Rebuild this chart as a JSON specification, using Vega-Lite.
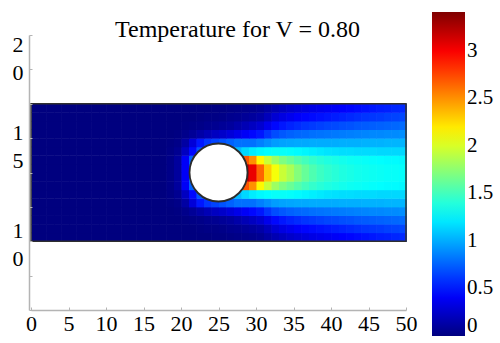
{
"$schema": "https://vega.github.io/schema/vega-lite/v6.json",
"width": 375, "height": 275,
"autosize": "none",
"padding": {"left": 31, "top": 35, "right": 94, "bottom": 33},
"config": {"view": {"stroke": null}, "font": "Times New Roman, Liberation Serif, serif"},
"title": {"text": "Temperature for V = 0.80", "font": "Times New Roman, Liberation Serif, serif", "fontSize": 24, "fontWeight": "normal", "color": "#000000", "anchor": "middle", "frame": "group", "dx": 19, "dy": 49, "offset": 0, "baseline": "alphabetic"},
"datasets": {
"obstacle": [{"cx": 25, "cy": 15}],
"channel": [{"x0": 0, "x1": 50, "y0": 10, "y1": 20}],
"cells": [
{"x":0,"y":10,"t":0},{"x":1,"y":10,"t":0},{"x":2,"y":10,"t":0},{"x":3,"y":10,"t":0},{"x":4,"y":10,"t":0},{"x":5,"y":10,"t":0},{"x":6,"y":10,"t":0},{"x":7,"y":10,"t":0},{"x":8,"y":10,"t":0},{"x":9,"y":10,"t":0},{"x":10,"y":10,"t":0},{"x":11,"y":10,"t":0},{"x":12,"y":10,"t":0},{"x":13,"y":10,"t":0},{"x":14,"y":10,"t":0},{"x":15,"y":10,"t":0},{"x":16,"y":10,"t":0},{"x":17,"y":10,"t":0},{"x":18,"y":10,"t":0},{"x":19,"y":10,"t":0},{"x":20,"y":10,"t":0},{"x":21,"y":10,"t":0},{"x":22,"y":10,"t":0},{"x":23,"y":10,"t":0},{"x":24,"y":10,"t":0.01},{"x":25,"y":10,"t":0.01},{"x":26,"y":10,"t":0.02},{"x":27,"y":10,"t":0.03},{"x":28,"y":10,"t":0.04},{"x":29,"y":10,"t":0.05},{"x":30,"y":10,"t":0.07},{"x":31,"y":10,"t":0.12},{"x":32,"y":10,"t":0.17},{"x":33,"y":10,"t":0.21},{"x":34,"y":10,"t":0.25},{"x":35,"y":10,"t":0.28},{"x":36,"y":10,"t":0.31},{"x":37,"y":10,"t":0.34},{"x":38,"y":10,"t":0.36},{"x":39,"y":10,"t":0.38},{"x":40,"y":10,"t":0.4},{"x":41,"y":10,"t":0.42},{"x":42,"y":10,"t":0.44},{"x":43,"y":10,"t":0.46},{"x":44,"y":10,"t":0.48},{"x":45,"y":10,"t":0.5},{"x":46,"y":10,"t":0.52},{"x":47,"y":10,"t":0.53},{"x":48,"y":10,"t":0.55},{"x":49,"y":10,"t":0.56},
{"x":0,"y":10.625,"t":0},{"x":1,"y":10.625,"t":0},{"x":2,"y":10.625,"t":0},{"x":3,"y":10.625,"t":0},{"x":4,"y":10.625,"t":0},{"x":5,"y":10.625,"t":0},{"x":6,"y":10.625,"t":0},{"x":7,"y":10.625,"t":0},{"x":8,"y":10.625,"t":0},{"x":9,"y":10.625,"t":0},{"x":10,"y":10.625,"t":0},{"x":11,"y":10.625,"t":0},{"x":12,"y":10.625,"t":0},{"x":13,"y":10.625,"t":0},{"x":14,"y":10.625,"t":0},{"x":15,"y":10.625,"t":0},{"x":16,"y":10.625,"t":0},{"x":17,"y":10.625,"t":0},{"x":18,"y":10.625,"t":0},{"x":19,"y":10.625,"t":0},{"x":20,"y":10.625,"t":0},{"x":21,"y":10.625,"t":0},{"x":22,"y":10.625,"t":0.01},{"x":23,"y":10.625,"t":0.02},{"x":24,"y":10.625,"t":0.02},{"x":25,"y":10.625,"t":0.03},{"x":26,"y":10.625,"t":0.05},{"x":27,"y":10.625,"t":0.06},{"x":28,"y":10.625,"t":0.08},{"x":29,"y":10.625,"t":0.1},{"x":30,"y":10.625,"t":0.13},{"x":31,"y":10.625,"t":0.2},{"x":32,"y":10.625,"t":0.28},{"x":33,"y":10.625,"t":0.33},{"x":34,"y":10.625,"t":0.37},{"x":35,"y":10.625,"t":0.41},{"x":36,"y":10.625,"t":0.44},{"x":37,"y":10.625,"t":0.46},{"x":38,"y":10.625,"t":0.48},{"x":39,"y":10.625,"t":0.5},{"x":40,"y":10.625,"t":0.52},{"x":41,"y":10.625,"t":0.54},{"x":42,"y":10.625,"t":0.56},{"x":43,"y":10.625,"t":0.58},{"x":44,"y":10.625,"t":0.6},{"x":45,"y":10.625,"t":0.61},{"x":46,"y":10.625,"t":0.62},{"x":47,"y":10.625,"t":0.64},{"x":48,"y":10.625,"t":0.65},{"x":49,"y":10.625,"t":0.66},
{"x":0,"y":11.25,"t":0},{"x":1,"y":11.25,"t":0},{"x":2,"y":11.25,"t":0},{"x":3,"y":11.25,"t":0},{"x":4,"y":11.25,"t":0},{"x":5,"y":11.25,"t":0},{"x":6,"y":11.25,"t":0},{"x":7,"y":11.25,"t":0},{"x":8,"y":11.25,"t":0},{"x":9,"y":11.25,"t":0},{"x":10,"y":11.25,"t":0},{"x":11,"y":11.25,"t":0},{"x":12,"y":11.25,"t":0},{"x":13,"y":11.25,"t":0},{"x":14,"y":11.25,"t":0},{"x":15,"y":11.25,"t":0},{"x":16,"y":11.25,"t":0},{"x":17,"y":11.25,"t":0},{"x":18,"y":11.25,"t":0},{"x":19,"y":11.25,"t":0},{"x":20,"y":11.25,"t":0.01},{"x":21,"y":11.25,"t":0.02},{"x":22,"y":11.25,"t":0.03},{"x":23,"y":11.25,"t":0.05},{"x":24,"y":11.25,"t":0.06},{"x":25,"y":11.25,"t":0.08},{"x":26,"y":11.25,"t":0.1},{"x":27,"y":11.25,"t":0.14},{"x":28,"y":11.25,"t":0.18},{"x":29,"y":11.25,"t":0.22},{"x":30,"y":11.25,"t":0.27},{"x":31,"y":11.25,"t":0.36},{"x":32,"y":11.25,"t":0.45},{"x":33,"y":11.25,"t":0.5},{"x":34,"y":11.25,"t":0.54},{"x":35,"y":11.25,"t":0.57},{"x":36,"y":11.25,"t":0.6},{"x":37,"y":11.25,"t":0.62},{"x":38,"y":11.25,"t":0.64},{"x":39,"y":11.25,"t":0.66},{"x":40,"y":11.25,"t":0.67},{"x":41,"y":11.25,"t":0.69},{"x":42,"y":11.25,"t":0.7},{"x":43,"y":11.25,"t":0.72},{"x":44,"y":11.25,"t":0.73},{"x":45,"y":11.25,"t":0.74},{"x":46,"y":11.25,"t":0.75},{"x":47,"y":11.25,"t":0.76},{"x":48,"y":11.25,"t":0.77},{"x":49,"y":11.25,"t":0.78},
{"x":0,"y":11.875,"t":0},{"x":1,"y":11.875,"t":0},{"x":2,"y":11.875,"t":0},{"x":3,"y":11.875,"t":0},{"x":4,"y":11.875,"t":0},{"x":5,"y":11.875,"t":0},{"x":6,"y":11.875,"t":0},{"x":7,"y":11.875,"t":0},{"x":8,"y":11.875,"t":0},{"x":9,"y":11.875,"t":0},{"x":10,"y":11.875,"t":0},{"x":11,"y":11.875,"t":0},{"x":12,"y":11.875,"t":0},{"x":13,"y":11.875,"t":0},{"x":14,"y":11.875,"t":0},{"x":15,"y":11.875,"t":0},{"x":16,"y":11.875,"t":0},{"x":17,"y":11.875,"t":0},{"x":18,"y":11.875,"t":0},{"x":19,"y":11.875,"t":0.01},{"x":20,"y":11.875,"t":0.04},{"x":21,"y":11.875,"t":0.08},{"x":22,"y":11.875,"t":0.13},{"x":23,"y":11.875,"t":0.18},{"x":24,"y":11.875,"t":0.22},{"x":25,"y":11.875,"t":0.25},{"x":26,"y":11.875,"t":0.3},{"x":27,"y":11.875,"t":0.35},{"x":28,"y":11.875,"t":0.4},{"x":29,"y":11.875,"t":0.45},{"x":30,"y":11.875,"t":0.5},{"x":31,"y":11.875,"t":0.6},{"x":32,"y":11.875,"t":0.68},{"x":33,"y":11.875,"t":0.72},{"x":34,"y":11.875,"t":0.75},{"x":35,"y":11.875,"t":0.77},{"x":36,"y":11.875,"t":0.78},{"x":37,"y":11.875,"t":0.8},{"x":38,"y":11.875,"t":0.81},{"x":39,"y":11.875,"t":0.82},{"x":40,"y":11.875,"t":0.83},{"x":41,"y":11.875,"t":0.84},{"x":42,"y":11.875,"t":0.85},{"x":43,"y":11.875,"t":0.86},{"x":44,"y":11.875,"t":0.87},{"x":45,"y":11.875,"t":0.88},{"x":46,"y":11.875,"t":0.88},{"x":47,"y":11.875,"t":0.89},{"x":48,"y":11.875,"t":0.89},{"x":49,"y":11.875,"t":0.9},
{"x":0,"y":12.5,"t":0},{"x":1,"y":12.5,"t":0},{"x":2,"y":12.5,"t":0},{"x":3,"y":12.5,"t":0},{"x":4,"y":12.5,"t":0},{"x":5,"y":12.5,"t":0},{"x":6,"y":12.5,"t":0},{"x":7,"y":12.5,"t":0},{"x":8,"y":12.5,"t":0},{"x":9,"y":12.5,"t":0},{"x":10,"y":12.5,"t":0},{"x":11,"y":12.5,"t":0},{"x":12,"y":12.5,"t":0},{"x":13,"y":12.5,"t":0},{"x":14,"y":12.5,"t":0},{"x":15,"y":12.5,"t":0},{"x":16,"y":12.5,"t":0},{"x":17,"y":12.5,"t":0},{"x":18,"y":12.5,"t":0.01},{"x":19,"y":12.5,"t":0.03},{"x":20,"y":12.5,"t":0.12},{"x":21,"y":12.5,"t":0.3},{"x":22,"y":12.5,"t":0.5},{"x":23,"y":12.5,"t":0.6},{"x":24,"y":12.5,"t":0.65},{"x":25,"y":12.5,"t":0.7},{"x":26,"y":12.5,"t":0.75},{"x":27,"y":12.5,"t":0.8},{"x":28,"y":12.5,"t":0.8},{"x":29,"y":12.5,"t":0.8},{"x":30,"y":12.5,"t":0.85},{"x":31,"y":12.5,"t":0.9},{"x":32,"y":12.5,"t":0.95},{"x":33,"y":12.5,"t":0.97},{"x":34,"y":12.5,"t":0.98},{"x":35,"y":12.5,"t":0.99},{"x":36,"y":12.5,"t":0.99},{"x":37,"y":12.5,"t":1.0},{"x":38,"y":12.5,"t":1.0},{"x":39,"y":12.5,"t":1.0},{"x":40,"y":12.5,"t":1.0},{"x":41,"y":12.5,"t":1.01},{"x":42,"y":12.5,"t":1.01},{"x":43,"y":12.5,"t":1.01},{"x":44,"y":12.5,"t":1.02},{"x":45,"y":12.5,"t":1.02},{"x":46,"y":12.5,"t":1.02},{"x":47,"y":12.5,"t":1.03},{"x":48,"y":12.5,"t":1.03},{"x":49,"y":12.5,"t":1.03},
{"x":0,"y":13.125,"t":0},{"x":1,"y":13.125,"t":0},{"x":2,"y":13.125,"t":0},{"x":3,"y":13.125,"t":0},{"x":4,"y":13.125,"t":0},{"x":5,"y":13.125,"t":0},{"x":6,"y":13.125,"t":0},{"x":7,"y":13.125,"t":0},{"x":8,"y":13.125,"t":0},{"x":9,"y":13.125,"t":0},{"x":10,"y":13.125,"t":0},{"x":11,"y":13.125,"t":0},{"x":12,"y":13.125,"t":0},{"x":13,"y":13.125,"t":0},{"x":14,"y":13.125,"t":0},{"x":15,"y":13.125,"t":0},{"x":16,"y":13.125,"t":0},{"x":17,"y":13.125,"t":0},{"x":18,"y":13.125,"t":0.02},{"x":19,"y":13.125,"t":0.06},{"x":20,"y":13.125,"t":0.22},{"x":21,"y":13.125,"t":0.45},{"x":22,"y":13.125,"t":0.7},{"x":23,"y":13.125,"t":0.8},{"x":24,"y":13.125,"t":0.9},{"x":25,"y":13.125,"t":0.9},{"x":26,"y":13.125,"t":0.95},{"x":27,"y":13.125,"t":1.05},{"x":28,"y":13.125,"t":1.15},{"x":29,"y":13.125,"t":1.22},{"x":30,"y":13.125,"t":1.26},{"x":31,"y":13.125,"t":1.28},{"x":32,"y":13.125,"t":1.3},{"x":33,"y":13.125,"t":1.3},{"x":34,"y":13.125,"t":1.29},{"x":35,"y":13.125,"t":1.27},{"x":36,"y":13.125,"t":1.25},{"x":37,"y":13.125,"t":1.23},{"x":38,"y":13.125,"t":1.21},{"x":39,"y":13.125,"t":1.19},{"x":40,"y":13.125,"t":1.18},{"x":41,"y":13.125,"t":1.17},{"x":42,"y":13.125,"t":1.17},{"x":43,"y":13.125,"t":1.16},{"x":44,"y":13.125,"t":1.16},{"x":45,"y":13.125,"t":1.16},{"x":46,"y":13.125,"t":1.15},{"x":47,"y":13.125,"t":1.15},{"x":48,"y":13.125,"t":1.15},{"x":49,"y":13.125,"t":1.15},
{"x":0,"y":13.75,"t":0},{"x":1,"y":13.75,"t":0},{"x":2,"y":13.75,"t":0},{"x":3,"y":13.75,"t":0},{"x":4,"y":13.75,"t":0},{"x":5,"y":13.75,"t":0},{"x":6,"y":13.75,"t":0},{"x":7,"y":13.75,"t":0},{"x":8,"y":13.75,"t":0},{"x":9,"y":13.75,"t":0},{"x":10,"y":13.75,"t":0},{"x":11,"y":13.75,"t":0},{"x":12,"y":13.75,"t":0},{"x":13,"y":13.75,"t":0},{"x":14,"y":13.75,"t":0},{"x":15,"y":13.75,"t":0},{"x":16,"y":13.75,"t":0},{"x":17,"y":13.75,"t":0},{"x":18,"y":13.75,"t":0.03},{"x":19,"y":13.75,"t":0.1},{"x":20,"y":13.75,"t":0.4},{"x":21,"y":13.75,"t":0.75},{"x":22,"y":13.75,"t":0.8},{"x":23,"y":13.75,"t":1.0},{"x":24,"y":13.75,"t":1.0},{"x":25,"y":13.75,"t":1.0},{"x":26,"y":13.75,"t":1.0},{"x":27,"y":13.75,"t":1.8},{"x":28,"y":13.75,"t":2.7},{"x":29,"y":13.75,"t":2.5},{"x":30,"y":13.75,"t":2.15},{"x":31,"y":13.75,"t":1.95},{"x":32,"y":13.75,"t":1.8},{"x":33,"y":13.75,"t":1.7},{"x":34,"y":13.75,"t":1.63},{"x":35,"y":13.75,"t":1.56},{"x":36,"y":13.75,"t":1.5},{"x":37,"y":13.75,"t":1.45},{"x":38,"y":13.75,"t":1.41},{"x":39,"y":13.75,"t":1.38},{"x":40,"y":13.75,"t":1.36},{"x":41,"y":13.75,"t":1.34},{"x":42,"y":13.75,"t":1.32},{"x":43,"y":13.75,"t":1.31},{"x":44,"y":13.75,"t":1.3},{"x":45,"y":13.75,"t":1.29},{"x":46,"y":13.75,"t":1.28},{"x":47,"y":13.75,"t":1.27},{"x":48,"y":13.75,"t":1.27},{"x":49,"y":13.75,"t":1.26},
{"x":0,"y":14.375,"t":0},{"x":1,"y":14.375,"t":0},{"x":2,"y":14.375,"t":0},{"x":3,"y":14.375,"t":0},{"x":4,"y":14.375,"t":0},{"x":5,"y":14.375,"t":0},{"x":6,"y":14.375,"t":0},{"x":7,"y":14.375,"t":0},{"x":8,"y":14.375,"t":0},{"x":9,"y":14.375,"t":0},{"x":10,"y":14.375,"t":0},{"x":11,"y":14.375,"t":0},{"x":12,"y":14.375,"t":0},{"x":13,"y":14.375,"t":0},{"x":14,"y":14.375,"t":0},{"x":15,"y":14.375,"t":0},{"x":16,"y":14.375,"t":0},{"x":17,"y":14.375,"t":0},{"x":18,"y":14.375,"t":0.03},{"x":19,"y":14.375,"t":0.1},{"x":20,"y":14.375,"t":0.4},{"x":21,"y":14.375,"t":0.8},{"x":22,"y":14.375,"t":1.0},{"x":23,"y":14.375,"t":1.0},{"x":24,"y":14.375,"t":1.0},{"x":25,"y":14.375,"t":1.0},{"x":26,"y":14.375,"t":1.0},{"x":27,"y":14.375,"t":1.0},{"x":28,"y":14.375,"t":3.2},{"x":29,"y":14.375,"t":3.05},{"x":30,"y":14.375,"t":2.65},{"x":31,"y":14.375,"t":2.3},{"x":32,"y":14.375,"t":2.1},{"x":33,"y":14.375,"t":1.95},{"x":34,"y":14.375,"t":1.85},{"x":35,"y":14.375,"t":1.72},{"x":36,"y":14.375,"t":1.62},{"x":37,"y":14.375,"t":1.54},{"x":38,"y":14.375,"t":1.48},{"x":39,"y":14.375,"t":1.44},{"x":40,"y":14.375,"t":1.41},{"x":41,"y":14.375,"t":1.38},{"x":42,"y":14.375,"t":1.36},{"x":43,"y":14.375,"t":1.34},{"x":44,"y":14.375,"t":1.33},{"x":45,"y":14.375,"t":1.32},{"x":46,"y":14.375,"t":1.31},{"x":47,"y":14.375,"t":1.3},{"x":48,"y":14.375,"t":1.3},{"x":49,"y":14.375,"t":1.29},
{"x":0,"y":15,"t":0},{"x":1,"y":15,"t":0},{"x":2,"y":15,"t":0},{"x":3,"y":15,"t":0},{"x":4,"y":15,"t":0},{"x":5,"y":15,"t":0},{"x":6,"y":15,"t":0},{"x":7,"y":15,"t":0},{"x":8,"y":15,"t":0},{"x":9,"y":15,"t":0},{"x":10,"y":15,"t":0},{"x":11,"y":15,"t":0},{"x":12,"y":15,"t":0},{"x":13,"y":15,"t":0},{"x":14,"y":15,"t":0},{"x":15,"y":15,"t":0},{"x":16,"y":15,"t":0},{"x":17,"y":15,"t":0},{"x":18,"y":15,"t":0.03},{"x":19,"y":15,"t":0.1},{"x":20,"y":15,"t":0.4},{"x":21,"y":15,"t":0.8},{"x":22,"y":15,"t":1.0},{"x":23,"y":15,"t":1.0},{"x":24,"y":15,"t":1.0},{"x":25,"y":15,"t":1.0},{"x":26,"y":15,"t":1.0},{"x":27,"y":15,"t":1.0},{"x":28,"y":15,"t":3.2},{"x":29,"y":15,"t":3.05},{"x":30,"y":15,"t":2.65},{"x":31,"y":15,"t":2.3},{"x":32,"y":15,"t":2.1},{"x":33,"y":15,"t":1.95},{"x":34,"y":15,"t":1.85},{"x":35,"y":15,"t":1.72},{"x":36,"y":15,"t":1.62},{"x":37,"y":15,"t":1.54},{"x":38,"y":15,"t":1.48},{"x":39,"y":15,"t":1.44},{"x":40,"y":15,"t":1.41},{"x":41,"y":15,"t":1.38},{"x":42,"y":15,"t":1.36},{"x":43,"y":15,"t":1.34},{"x":44,"y":15,"t":1.33},{"x":45,"y":15,"t":1.32},{"x":46,"y":15,"t":1.31},{"x":47,"y":15,"t":1.3},{"x":48,"y":15,"t":1.3},{"x":49,"y":15,"t":1.29},
{"x":0,"y":15.625,"t":0},{"x":1,"y":15.625,"t":0},{"x":2,"y":15.625,"t":0},{"x":3,"y":15.625,"t":0},{"x":4,"y":15.625,"t":0},{"x":5,"y":15.625,"t":0},{"x":6,"y":15.625,"t":0},{"x":7,"y":15.625,"t":0},{"x":8,"y":15.625,"t":0},{"x":9,"y":15.625,"t":0},{"x":10,"y":15.625,"t":0},{"x":11,"y":15.625,"t":0},{"x":12,"y":15.625,"t":0},{"x":13,"y":15.625,"t":0},{"x":14,"y":15.625,"t":0},{"x":15,"y":15.625,"t":0},{"x":16,"y":15.625,"t":0},{"x":17,"y":15.625,"t":0},{"x":18,"y":15.625,"t":0.03},{"x":19,"y":15.625,"t":0.1},{"x":20,"y":15.625,"t":0.4},{"x":21,"y":15.625,"t":0.75},{"x":22,"y":15.625,"t":0.8},{"x":23,"y":15.625,"t":1.0},{"x":24,"y":15.625,"t":1.0},{"x":25,"y":15.625,"t":1.0},{"x":26,"y":15.625,"t":1.0},{"x":27,"y":15.625,"t":1.8},{"x":28,"y":15.625,"t":2.7},{"x":29,"y":15.625,"t":2.5},{"x":30,"y":15.625,"t":2.15},{"x":31,"y":15.625,"t":1.95},{"x":32,"y":15.625,"t":1.8},{"x":33,"y":15.625,"t":1.7},{"x":34,"y":15.625,"t":1.63},{"x":35,"y":15.625,"t":1.56},{"x":36,"y":15.625,"t":1.5},{"x":37,"y":15.625,"t":1.45},{"x":38,"y":15.625,"t":1.41},{"x":39,"y":15.625,"t":1.38},{"x":40,"y":15.625,"t":1.36},{"x":41,"y":15.625,"t":1.34},{"x":42,"y":15.625,"t":1.32},{"x":43,"y":15.625,"t":1.31},{"x":44,"y":15.625,"t":1.3},{"x":45,"y":15.625,"t":1.29},{"x":46,"y":15.625,"t":1.28},{"x":47,"y":15.625,"t":1.27},{"x":48,"y":15.625,"t":1.27},{"x":49,"y":15.625,"t":1.26},
{"x":0,"y":16.25,"t":0},{"x":1,"y":16.25,"t":0},{"x":2,"y":16.25,"t":0},{"x":3,"y":16.25,"t":0},{"x":4,"y":16.25,"t":0},{"x":5,"y":16.25,"t":0},{"x":6,"y":16.25,"t":0},{"x":7,"y":16.25,"t":0},{"x":8,"y":16.25,"t":0},{"x":9,"y":16.25,"t":0},{"x":10,"y":16.25,"t":0},{"x":11,"y":16.25,"t":0},{"x":12,"y":16.25,"t":0},{"x":13,"y":16.25,"t":0},{"x":14,"y":16.25,"t":0},{"x":15,"y":16.25,"t":0},{"x":16,"y":16.25,"t":0},{"x":17,"y":16.25,"t":0},{"x":18,"y":16.25,"t":0.02},{"x":19,"y":16.25,"t":0.06},{"x":20,"y":16.25,"t":0.22},{"x":21,"y":16.25,"t":0.45},{"x":22,"y":16.25,"t":0.7},{"x":23,"y":16.25,"t":0.8},{"x":24,"y":16.25,"t":0.9},{"x":25,"y":16.25,"t":0.9},{"x":26,"y":16.25,"t":0.95},{"x":27,"y":16.25,"t":1.05},{"x":28,"y":16.25,"t":1.15},{"x":29,"y":16.25,"t":1.22},{"x":30,"y":16.25,"t":1.26},{"x":31,"y":16.25,"t":1.28},{"x":32,"y":16.25,"t":1.3},{"x":33,"y":16.25,"t":1.3},{"x":34,"y":16.25,"t":1.29},{"x":35,"y":16.25,"t":1.27},{"x":36,"y":16.25,"t":1.25},{"x":37,"y":16.25,"t":1.23},{"x":38,"y":16.25,"t":1.21},{"x":39,"y":16.25,"t":1.19},{"x":40,"y":16.25,"t":1.18},{"x":41,"y":16.25,"t":1.17},{"x":42,"y":16.25,"t":1.17},{"x":43,"y":16.25,"t":1.16},{"x":44,"y":16.25,"t":1.16},{"x":45,"y":16.25,"t":1.16},{"x":46,"y":16.25,"t":1.15},{"x":47,"y":16.25,"t":1.15},{"x":48,"y":16.25,"t":1.15},{"x":49,"y":16.25,"t":1.15},
{"x":0,"y":16.875,"t":0},{"x":1,"y":16.875,"t":0},{"x":2,"y":16.875,"t":0},{"x":3,"y":16.875,"t":0},{"x":4,"y":16.875,"t":0},{"x":5,"y":16.875,"t":0},{"x":6,"y":16.875,"t":0},{"x":7,"y":16.875,"t":0},{"x":8,"y":16.875,"t":0},{"x":9,"y":16.875,"t":0},{"x":10,"y":16.875,"t":0},{"x":11,"y":16.875,"t":0},{"x":12,"y":16.875,"t":0},{"x":13,"y":16.875,"t":0},{"x":14,"y":16.875,"t":0},{"x":15,"y":16.875,"t":0},{"x":16,"y":16.875,"t":0},{"x":17,"y":16.875,"t":0},{"x":18,"y":16.875,"t":0.01},{"x":19,"y":16.875,"t":0.03},{"x":20,"y":16.875,"t":0.12},{"x":21,"y":16.875,"t":0.3},{"x":22,"y":16.875,"t":0.5},{"x":23,"y":16.875,"t":0.6},{"x":24,"y":16.875,"t":0.65},{"x":25,"y":16.875,"t":0.7},{"x":26,"y":16.875,"t":0.75},{"x":27,"y":16.875,"t":0.8},{"x":28,"y":16.875,"t":0.8},{"x":29,"y":16.875,"t":0.8},{"x":30,"y":16.875,"t":0.85},{"x":31,"y":16.875,"t":0.9},{"x":32,"y":16.875,"t":0.95},{"x":33,"y":16.875,"t":0.97},{"x":34,"y":16.875,"t":0.98},{"x":35,"y":16.875,"t":0.99},{"x":36,"y":16.875,"t":0.99},{"x":37,"y":16.875,"t":1.0},{"x":38,"y":16.875,"t":1.0},{"x":39,"y":16.875,"t":1.0},{"x":40,"y":16.875,"t":1.0},{"x":41,"y":16.875,"t":1.01},{"x":42,"y":16.875,"t":1.01},{"x":43,"y":16.875,"t":1.01},{"x":44,"y":16.875,"t":1.02},{"x":45,"y":16.875,"t":1.02},{"x":46,"y":16.875,"t":1.02},{"x":47,"y":16.875,"t":1.03},{"x":48,"y":16.875,"t":1.03},{"x":49,"y":16.875,"t":1.03},
{"x":0,"y":17.5,"t":0},{"x":1,"y":17.5,"t":0},{"x":2,"y":17.5,"t":0},{"x":3,"y":17.5,"t":0},{"x":4,"y":17.5,"t":0},{"x":5,"y":17.5,"t":0},{"x":6,"y":17.5,"t":0},{"x":7,"y":17.5,"t":0},{"x":8,"y":17.5,"t":0},{"x":9,"y":17.5,"t":0},{"x":10,"y":17.5,"t":0},{"x":11,"y":17.5,"t":0},{"x":12,"y":17.5,"t":0},{"x":13,"y":17.5,"t":0},{"x":14,"y":17.5,"t":0},{"x":15,"y":17.5,"t":0},{"x":16,"y":17.5,"t":0},{"x":17,"y":17.5,"t":0},{"x":18,"y":17.5,"t":0},{"x":19,"y":17.5,"t":0.01},{"x":20,"y":17.5,"t":0.04},{"x":21,"y":17.5,"t":0.08},{"x":22,"y":17.5,"t":0.13},{"x":23,"y":17.5,"t":0.18},{"x":24,"y":17.5,"t":0.22},{"x":25,"y":17.5,"t":0.25},{"x":26,"y":17.5,"t":0.3},{"x":27,"y":17.5,"t":0.35},{"x":28,"y":17.5,"t":0.4},{"x":29,"y":17.5,"t":0.45},{"x":30,"y":17.5,"t":0.5},{"x":31,"y":17.5,"t":0.6},{"x":32,"y":17.5,"t":0.68},{"x":33,"y":17.5,"t":0.72},{"x":34,"y":17.5,"t":0.75},{"x":35,"y":17.5,"t":0.77},{"x":36,"y":17.5,"t":0.78},{"x":37,"y":17.5,"t":0.8},{"x":38,"y":17.5,"t":0.81},{"x":39,"y":17.5,"t":0.82},{"x":40,"y":17.5,"t":0.83},{"x":41,"y":17.5,"t":0.84},{"x":42,"y":17.5,"t":0.85},{"x":43,"y":17.5,"t":0.86},{"x":44,"y":17.5,"t":0.87},{"x":45,"y":17.5,"t":0.88},{"x":46,"y":17.5,"t":0.88},{"x":47,"y":17.5,"t":0.89},{"x":48,"y":17.5,"t":0.89},{"x":49,"y":17.5,"t":0.9},
{"x":0,"y":18.125,"t":0},{"x":1,"y":18.125,"t":0},{"x":2,"y":18.125,"t":0},{"x":3,"y":18.125,"t":0},{"x":4,"y":18.125,"t":0},{"x":5,"y":18.125,"t":0},{"x":6,"y":18.125,"t":0},{"x":7,"y":18.125,"t":0},{"x":8,"y":18.125,"t":0},{"x":9,"y":18.125,"t":0},{"x":10,"y":18.125,"t":0},{"x":11,"y":18.125,"t":0},{"x":12,"y":18.125,"t":0},{"x":13,"y":18.125,"t":0},{"x":14,"y":18.125,"t":0},{"x":15,"y":18.125,"t":0},{"x":16,"y":18.125,"t":0},{"x":17,"y":18.125,"t":0},{"x":18,"y":18.125,"t":0},{"x":19,"y":18.125,"t":0},{"x":20,"y":18.125,"t":0.01},{"x":21,"y":18.125,"t":0.02},{"x":22,"y":18.125,"t":0.03},{"x":23,"y":18.125,"t":0.05},{"x":24,"y":18.125,"t":0.06},{"x":25,"y":18.125,"t":0.08},{"x":26,"y":18.125,"t":0.1},{"x":27,"y":18.125,"t":0.14},{"x":28,"y":18.125,"t":0.18},{"x":29,"y":18.125,"t":0.22},{"x":30,"y":18.125,"t":0.27},{"x":31,"y":18.125,"t":0.36},{"x":32,"y":18.125,"t":0.45},{"x":33,"y":18.125,"t":0.5},{"x":34,"y":18.125,"t":0.54},{"x":35,"y":18.125,"t":0.57},{"x":36,"y":18.125,"t":0.6},{"x":37,"y":18.125,"t":0.62},{"x":38,"y":18.125,"t":0.64},{"x":39,"y":18.125,"t":0.66},{"x":40,"y":18.125,"t":0.67},{"x":41,"y":18.125,"t":0.69},{"x":42,"y":18.125,"t":0.7},{"x":43,"y":18.125,"t":0.72},{"x":44,"y":18.125,"t":0.73},{"x":45,"y":18.125,"t":0.74},{"x":46,"y":18.125,"t":0.75},{"x":47,"y":18.125,"t":0.76},{"x":48,"y":18.125,"t":0.77},{"x":49,"y":18.125,"t":0.78},
{"x":0,"y":18.75,"t":0},{"x":1,"y":18.75,"t":0},{"x":2,"y":18.75,"t":0},{"x":3,"y":18.75,"t":0},{"x":4,"y":18.75,"t":0},{"x":5,"y":18.75,"t":0},{"x":6,"y":18.75,"t":0},{"x":7,"y":18.75,"t":0},{"x":8,"y":18.75,"t":0},{"x":9,"y":18.75,"t":0},{"x":10,"y":18.75,"t":0},{"x":11,"y":18.75,"t":0},{"x":12,"y":18.75,"t":0},{"x":13,"y":18.75,"t":0},{"x":14,"y":18.75,"t":0},{"x":15,"y":18.75,"t":0},{"x":16,"y":18.75,"t":0},{"x":17,"y":18.75,"t":0},{"x":18,"y":18.75,"t":0},{"x":19,"y":18.75,"t":0},{"x":20,"y":18.75,"t":0},{"x":21,"y":18.75,"t":0},{"x":22,"y":18.75,"t":0.01},{"x":23,"y":18.75,"t":0.02},{"x":24,"y":18.75,"t":0.02},{"x":25,"y":18.75,"t":0.03},{"x":26,"y":18.75,"t":0.05},{"x":27,"y":18.75,"t":0.06},{"x":28,"y":18.75,"t":0.08},{"x":29,"y":18.75,"t":0.1},{"x":30,"y":18.75,"t":0.13},{"x":31,"y":18.75,"t":0.2},{"x":32,"y":18.75,"t":0.28},{"x":33,"y":18.75,"t":0.33},{"x":34,"y":18.75,"t":0.37},{"x":35,"y":18.75,"t":0.41},{"x":36,"y":18.75,"t":0.44},{"x":37,"y":18.75,"t":0.46},{"x":38,"y":18.75,"t":0.48},{"x":39,"y":18.75,"t":0.5},{"x":40,"y":18.75,"t":0.52},{"x":41,"y":18.75,"t":0.54},{"x":42,"y":18.75,"t":0.56},{"x":43,"y":18.75,"t":0.58},{"x":44,"y":18.75,"t":0.6},{"x":45,"y":18.75,"t":0.61},{"x":46,"y":18.75,"t":0.62},{"x":47,"y":18.75,"t":0.64},{"x":48,"y":18.75,"t":0.65},{"x":49,"y":18.75,"t":0.66},
{"x":0,"y":19.375,"t":0},{"x":1,"y":19.375,"t":0},{"x":2,"y":19.375,"t":0},{"x":3,"y":19.375,"t":0},{"x":4,"y":19.375,"t":0},{"x":5,"y":19.375,"t":0},{"x":6,"y":19.375,"t":0},{"x":7,"y":19.375,"t":0},{"x":8,"y":19.375,"t":0},{"x":9,"y":19.375,"t":0},{"x":10,"y":19.375,"t":0},{"x":11,"y":19.375,"t":0},{"x":12,"y":19.375,"t":0},{"x":13,"y":19.375,"t":0},{"x":14,"y":19.375,"t":0},{"x":15,"y":19.375,"t":0},{"x":16,"y":19.375,"t":0},{"x":17,"y":19.375,"t":0},{"x":18,"y":19.375,"t":0},{"x":19,"y":19.375,"t":0},{"x":20,"y":19.375,"t":0},{"x":21,"y":19.375,"t":0},{"x":22,"y":19.375,"t":0},{"x":23,"y":19.375,"t":0},{"x":24,"y":19.375,"t":0.01},{"x":25,"y":19.375,"t":0.01},{"x":26,"y":19.375,"t":0.02},{"x":27,"y":19.375,"t":0.03},{"x":28,"y":19.375,"t":0.04},{"x":29,"y":19.375,"t":0.05},{"x":30,"y":19.375,"t":0.07},{"x":31,"y":19.375,"t":0.12},{"x":32,"y":19.375,"t":0.17},{"x":33,"y":19.375,"t":0.21},{"x":34,"y":19.375,"t":0.25},{"x":35,"y":19.375,"t":0.28},{"x":36,"y":19.375,"t":0.31},{"x":37,"y":19.375,"t":0.34},{"x":38,"y":19.375,"t":0.36},{"x":39,"y":19.375,"t":0.38},{"x":40,"y":19.375,"t":0.4},{"x":41,"y":19.375,"t":0.42},{"x":42,"y":19.375,"t":0.44},{"x":43,"y":19.375,"t":0.46},{"x":44,"y":19.375,"t":0.48},{"x":45,"y":19.375,"t":0.5},{"x":46,"y":19.375,"t":0.52},{"x":47,"y":19.375,"t":0.53},{"x":48,"y":19.375,"t":0.55},{"x":49,"y":19.375,"t":0.56}
]
},
"layer": [
{
"data": {"name": "cells"},
"mark": {"type": "rect", "binSpacing": 0},
"encoding": {
"x": {"field": "x", "type": "quantitative", "bin": {"binned": true, "step": 1.06},
 "scale": {"domain": [0, 50], "nice": false, "zero": false},
 "axis": {"values": [0, 5, 10, 15, 20, 25, 30, 35, 40, 45, 50], "title": null, "grid": false, "labelFont": "Times New Roman, Liberation Serif, serif", "labelFontSize": 22, "labelColor": "#000000", "labelFlush": false, "labelOverlap": false, "domainColor": "#b4b4b4", "domainWidth": 1.5, "tickColor": "#b4b4b4", "tickSize": -3, "labelPadding": 6, "format": "d"}},
"y": {"field": "y", "type": "quantitative", "bin": {"binned": true, "step": 0.66},
 "scale": {"domain": [5, 25], "nice": false, "zero": false},
 "axis": {"values": [5, 7.5, 10, 12.5, 15, 17.5, 20, 22.5, 25], "labels": false, "title": null, "grid": false, "orient": "left", "offset": 2, "domainColor": "#b4b4b4", "domainWidth": 1.5, "tickColor": "#b4b4b4", "tickSize": -3}},
"color": {"field": "t", "type": "quantitative",
 "scale": {"domain": [0, 0.426, 1.279, 2.131, 2.984, 3.41], "range": ["#00007f", "#0000ff", "#00ffff", "#ffff00", "#ff0000", "#7f0000"], "interpolate": "rgb"},
 "legend": {"type": "gradient", "orient": "none", "legendX": 401, "legendY": -23, "direction": "vertical", "title": null, "gradientLength": 324, "gradientThickness": 33, "gradientStrokeWidth": 0, "values": [0, 0.5, 1, 1.5, 2, 2.5, 3], "format": "~g", "labelFont": "Times New Roman, Liberation Serif, serif", "labelFontSize": 21, "labelColor": "#000000", "labelOffset": 2, "labelOverlap": false}}
}
},
{
"data": {"name": "channel"},
"mark": {"type": "rect", "filled": false, "stroke": "#2f2f2f", "strokeWidth": 1.5},
"encoding": {
"x": {"field": "x0", "type": "quantitative", "scale": {"domain": [0, 50], "nice": false, "zero": false}},
"x2": {"field": "x1"},
"y": {"field": "y0", "type": "quantitative", "scale": {"domain": [5, 25], "nice": false, "zero": false}, "axis": null},
"y2": {"field": "y1"}
}
},
{
"data": {"name": "obstacle"},
"mark": {"type": "point", "shape": "circle", "filled": true, "fill": "#ffffff", "stroke": "#2b2b2b", "strokeWidth": 1.8, "size": 3364, "opacity": 1, "fillOpacity": 1},
"encoding": {
"x": {"field": "cx", "type": "quantitative", "scale": {"domain": [0, 50], "nice": false, "zero": false}},
"y": {"field": "cy", "type": "quantitative", "scale": {"domain": [5, 25], "nice": false, "zero": false},
 "axis": {"values": [24.309, 17.873, 10.818], "labelExpr": "datum.value > 20 ? ['2', '0'] : datum.value > 12 ? ['1', '5'] : ['1', '0']", "ticks": false, "domain": false, "grid": false, "orient": "left", "offset": 2, "title": null, "labelPadding": 6, "labelFont": "Times New Roman, Liberation Serif, serif", "labelFontSize": 22, "labelColor": "#000000", "labelLineHeight": 28, "labelBaseline": "middle", "labelOverlap": false, "labelFlush": false}}
}
}
],
"resolve": {"axis": {"y": "independent"}}
}
